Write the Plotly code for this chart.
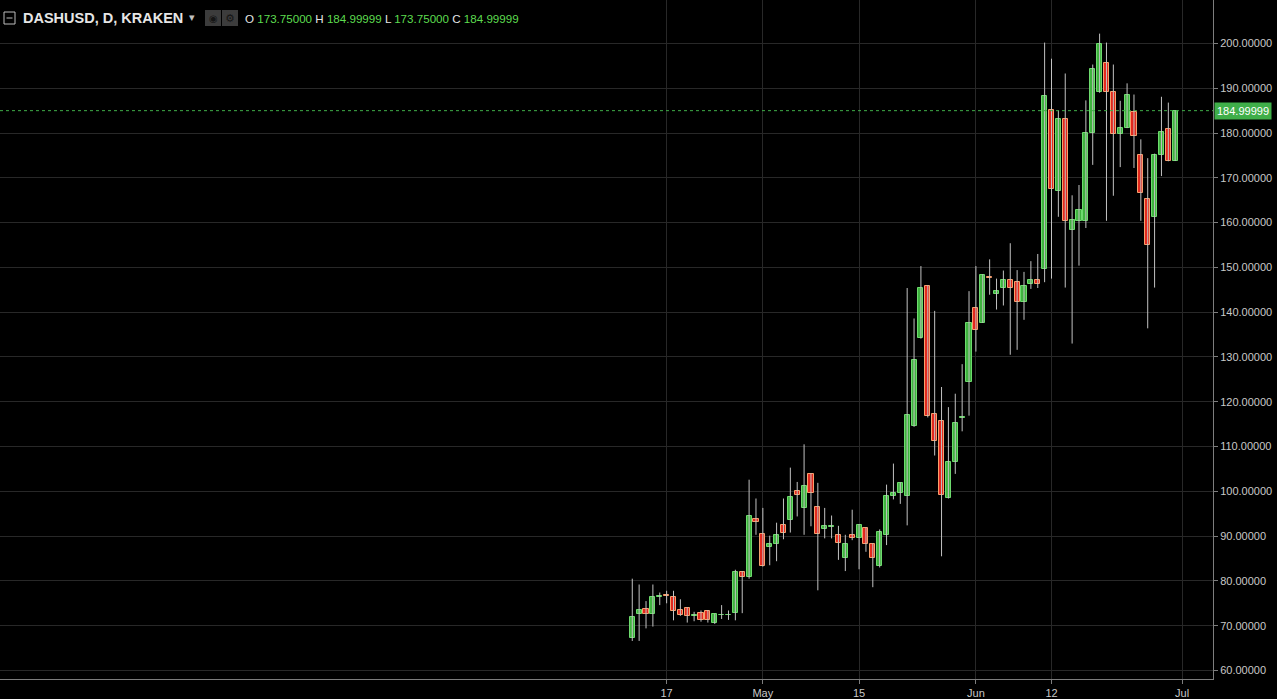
import pandas as pd
import plotly.graph_objects as go

# ---- data ----
dates = pd.date_range("2017-04-12", "2017-06-30", freq="D")
opens = [67.2, 72.6, 73.8, 72.6, 76.4, 76.8, 76.5, 73.4, 74.0, 72.1,
         72.9, 73.3, 70.5, 72.3, 72.3, 72.8, 82.0, 80.8, 93.8, 90.5,
         87.5, 88.2, 92.5, 93.5, 100.1, 96.3, 103.9, 96.5, 91.5, 92.1,
         90.3, 85.1, 90.3, 89.6, 91.8, 88.3, 83.3, 90.2, 98.9, 99.6,
         99.0, 114.5, 134.2, 145.8, 117.2, 115.7, 98.5, 106.5, 116.4, 124.4,
         140.9, 137.7, 147.9, 144.0, 145.3, 147.3, 146.7, 142.2, 146.4, 147.3,
         149.7, 185.1, 167.1, 183.2, 158.3, 160.3, 160.3, 180.1, 189.2, 195.7,
         189.2, 179.7, 181.2, 184.6, 175.2, 165.2, 161.2, 175.2, 181.0, 173.75]
highs = [80.5, 79.2, 75.5, 79.2, 77.4, 77.8, 77.8, 75.9, 74.1, 73.1,
         73.4, 73.5, 72.7, 74.6, 73.4, 82.5, 82.2, 102.6, 98.4, 96.3,
         90.1, 93.0, 98.4, 105.3, 102.1, 110.5, 104.0, 101.9, 96.3, 94.6,
         92.3, 90.3, 95.9, 92.7, 92.0, 88.4, 91.5, 101.5, 106.2, 102.0,
         145.4, 138.6, 150.3, 146.0, 140.3, 123.3, 118.8, 121.8, 128.4, 144.7,
         150.3, 148.5, 151.8, 147.5, 149.3, 155.4, 149.4, 149.0, 151.4, 153.0,
         200.2, 196.6, 185.1, 193.3, 166.1, 168.4, 187.3, 195.3, 202.2, 200.2,
         195.3, 187.2, 191.1, 188.6, 178.6, 174.4, 175.4, 188.1, 186.8, 184.99999]
lows = [66.6, 66.6, 69.4, 69.8, 74.6, 75.0, 71.2, 72.2, 70.7, 71.0,
        70.9, 70.7, 70.4, 71.5, 71.3, 71.2, 72.8, 80.5, 90.3, 83.2,
        83.5, 84.4, 89.3, 90.8, 94.4, 90.3, 92.2, 77.9, 89.5, 89.5,
        84.7, 82.2, 89.1, 82.6, 86.5, 78.6, 83.0, 88.0, 98.2, 97.2,
        92.4, 114.4, 134.1, 116.5, 108.0, 85.5, 98.4, 103.9, 113.4, 116.9,
        131.2, 137.6, 143.9, 140.6, 141.5, 130.5, 131.6, 138.3, 145.2, 145.4,
        146.7, 147.5, 161.3, 145.5, 133.0, 150.4, 158.8, 172.9, 189.0, 160.4,
        166.0, 172.4, 181.1, 172.2, 160.4, 136.4, 145.5, 170.4, 173.7, 173.75]
closes = [72.0, 73.4, 72.6, 76.5, 76.6, 76.6, 73.3, 72.4, 72.1, 72.3,
          71.3, 71.2, 72.6, 72.5, 72.5, 82.0, 80.8, 94.5, 93.1, 83.3,
          88.2, 90.3, 90.6, 98.7, 99.2, 101.2, 99.6, 90.5, 92.3, 92.3,
          88.5, 88.2, 89.6, 92.5, 88.3, 85.1, 90.9, 98.9, 99.6, 101.9,
          117.0, 129.3, 145.5, 116.8, 111.3, 99.1, 106.5, 115.2, 116.6, 137.7,
          136.0, 148.2, 147.7, 144.7, 147.3, 145.3, 142.2, 145.8, 147.3, 146.2,
          188.3, 167.5, 183.2, 160.3, 160.7, 162.9, 180.1, 194.4, 199.9, 189.2,
          179.7, 181.2, 188.6, 179.4, 166.7, 154.9, 175.2, 180.3, 173.75, 184.99999]

tick_dates = ["2017-04-17", "2017-05-01", "2017-05-15", "2017-06-01", "2017-06-12", "2017-07-01"]
tick_text = ["17", "May", "15", "Jun", "12", "Jul"]
y_ticks = list(range(60, 201, 10))
last_price = 184.99999

# ---- styling ----
BG = "#000000"
GRID = "#282828"
AXIS = "#7d7d7d"
TXT = "#c8c8c8"
UP_FILL, UP_LINE = "#3fb23f", "#6edb6e"
DN_FILL, DN_LINE = "#e2281d", "#f6a06e"
WICK = "#c2c2c2"
PRICE_GREEN = "#3fae49"
FONT = "Liberation Sans, Arial, sans-serif"

fig = go.Figure()

# wicks
wx, wy = [], []
for d, h, l in zip(dates, highs, lows):
    wx += [d, d, None]
    wy += [l, h, None]
fig.add_trace(go.Scatter(x=wx, y=wy, mode="lines", line=dict(color=WICK, width=1),
                         hoverinfo="skip", showlegend=False))

# bodies
bar_w = 0.74 * 86400000
up = [c >= o for o, c in zip(opens, closes)]
for is_up, fill, line in [(True, UP_FILL, UP_LINE), (False, DN_FILL, DN_LINE)]:
    xs, bases, hs = [], [], []
    for d, o, c, u in zip(dates, opens, closes, up):
        if u == is_up:
            xs.append(d)
            lo = min(o, c)
            bases.append(lo)
            hs.append(max(abs(c - o), 0.15))
    fig.add_trace(go.Bar(x=xs, y=hs, base=bases, width=bar_w,
                         marker=dict(color=fill, line=dict(color=line, width=1)),
                         hoverinfo="skip", showlegend=False))

# price line
fig.add_shape(type="line", xref="paper", x0=0, x1=1, y0=last_price, y1=last_price,
              line=dict(color=PRICE_GREEN, width=1, dash="dot"))

ph = 679.0
pw = 1213.0

def px(x):
    return x / pw

def py(y):
    return 1 - y / ph

annotations = [
    dict(xref="paper", yref="y", x=1.0, y=last_price, xanchor="left", yanchor="middle",
         text="184.99999", showarrow=False, bgcolor=PRICE_GREEN,
         font=dict(family=FONT, size=11, color="#ffffff"), borderpad=2, xshift=1),
    dict(xref="paper", yref="paper", x=px(21), y=py(18), xanchor="left", yanchor="middle",
         text="<b>DASHUSD, D, KRAKEN</b>", showarrow=False,
         font=dict(family=FONT, size=14.5, color="#e6e6e6")),
    dict(xref="paper", yref="paper", x=px(187), y=py(17), xanchor="left", yanchor="middle",
         text="▾", showarrow=False, font=dict(family="DejaVu Sans", size=11, color="#c0c0c0")),
    dict(xref="paper", yref="paper", x=px(243), y=py(18), xanchor="left", yanchor="middle",
         text=("O <span style='color:#5ddc4f'>173.75000</span> H <span style='color:#5ddc4f'>184.99999</span>"
               " L <span style='color:#5ddc4f'>173.75000</span> C <span style='color:#5ddc4f'>184.99999</span>"),
         showarrow=False, font=dict(family=FONT, size=11.6, color="#e6e6e6")),
    dict(xref="paper", yref="paper", x=px(213), y=py(18), xanchor="center", yanchor="middle",
         text="◉", showarrow=False, font=dict(family="DejaVu Sans", size=10, color="#151515")),
    dict(xref="paper", yref="paper", x=px(230), y=py(18), xanchor="center", yanchor="middle",
         text="⚙", showarrow=False, font=dict(family="DejaVu Sans", size=11, color="#151515")),
]

shapes_extra = [
    # collapse box icon
    dict(type="rect", xref="paper", yref="paper", x0=px(4), x1=px(15), y0=py(24), y1=py(12),
         line=dict(color="#bdbdbd", width=1), fillcolor=BG),
    dict(type="line", xref="paper", yref="paper", x0=px(6.5), x1=px(12.5), y0=py(18), y1=py(18),
         line=dict(color="#bdbdbd", width=1)),
    # icon squares
    dict(type="rect", xref="paper", yref="paper", x0=px(205), x1=px(221), y0=py(26), y1=py(10),
         line=dict(width=0), fillcolor="#3c3c3c"),
    dict(type="rect", xref="paper", yref="paper", x0=px(222), x1=px(238), y0=py(26), y1=py(10),
         line=dict(width=0), fillcolor="#3c3c3c"),
]
for s in shapes_extra:
    fig.add_shape(**s)

fig.update_layout(
    width=1277, height=699,
    margin=dict(l=0, r=64, t=0, b=20),
    paper_bgcolor=BG, plot_bgcolor=BG,
    barmode="overlay", bargap=0,
    showlegend=False,
    hovermode=False,
    annotations=annotations,
    xaxis=dict(
        type="date",
        range=["2017-01-10 00:00", "2017-07-05 12:00"],
        tickvals=tick_dates, ticktext=tick_text,
        showgrid=True, gridcolor=GRID, gridwidth=1,
        zeroline=False,
        showline=True, linecolor=AXIS, linewidth=1,
        ticks="outside", ticklen=4, tickcolor=AXIS,
        tickfont=dict(family=FONT, size=11, color=TXT),
        fixedrange=True,
    ),
    yaxis=dict(
        side="right",
        range=[58.10, 209.71],
        tickvals=y_ticks,
        tickformat=".5f",
        showgrid=True, gridcolor=GRID, gridwidth=1,
        zeroline=False,
        showline=True, linecolor=AXIS, linewidth=1,
        ticks="outside", ticklen=4, tickcolor=AXIS,
        tickfont=dict(family=FONT, size=11, color=TXT),
        fixedrange=True,
    ),
)

fig.write_html(
    "out.html",
    config={"displayModeBar": False},
    post_script="document.body.style.margin='0';document.body.style.overflow='hidden';document.body.style.background='#000';",
)
